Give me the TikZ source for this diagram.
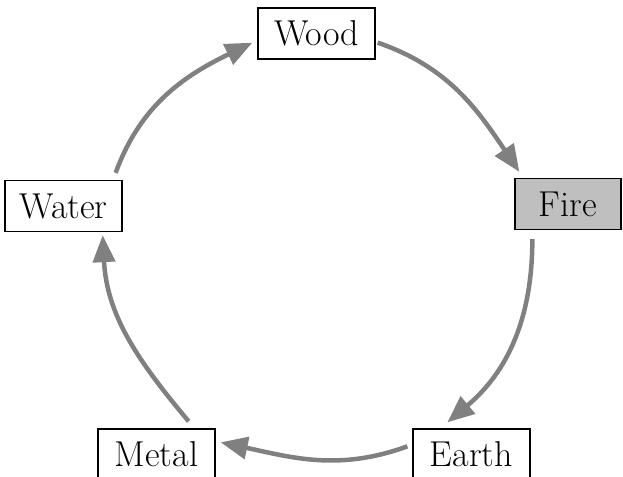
\documentclass[tikz,border=0pt]{standalone}
\usetikzlibrary{arrows.meta,calc}
\begin{document}
\begin{tikzpicture}[x=1pt,y=1pt,
  elem/.style={draw=black,line width=1.3pt,minimum width=117pt,minimum height=51pt,inner sep=0pt,
    font=\fontsize{36}{42}\selectfont},
  cyc/.style={draw=black!50,line width=4.5pt,-{Triangle[length=27pt,width=22pt]}}]
\useasboundingbox (0,0) rectangle (623,476);
\node[elem] (wood) at (316.5,442.5) {Wood};
\node[elem,fill=black!25,minimum width=106pt] (fire) at (568,272) {Fire};
\node[elem] (water) at (63.5,270) {Water};
\node[elem] (metal) at (156.5,21.5) {Metal};
\node[elem] (earth) at (471.5,21.5) {Earth};
\coordinate (a1) at ([shift={(-7,7)}]water.north east);
\coordinate (b1) at ([shift={(-5,17)}]wood.south west);
\coordinate (a2) at ([shift={(2,17)}]wood.south east);
\coordinate (b2) at ([shift={(5,6)}]fire.north west);
\coordinate (a3) at ([shift={(18,-9)}]fire.south west);
\coordinate (b3) at ([shift={(35,6)}]earth.north west);
\coordinate (a4) at ([shift={(-5,-18)}]earth.north west);
\coordinate (b4) at ([shift={(5,-14)}]metal.north east);
\coordinate (a5) at ([shift={(-27,7)}]metal.north east);
\coordinate (b5) at ([shift={(-20,-3)}]water.south east);
\draw[cyc] (a1) to[out=70,in=206] (b1);
\draw[cyc] (a2) to[out=-19,in=124] (b2);
\draw[cyc] (a3) to[out=-90,in=40] (b3);
\draw[cyc] (a4) to[out=200,in=-12] (b4);
\draw[cyc] (a5) to[out=130,in=273] (b5);
\end{tikzpicture}
\end{document}
